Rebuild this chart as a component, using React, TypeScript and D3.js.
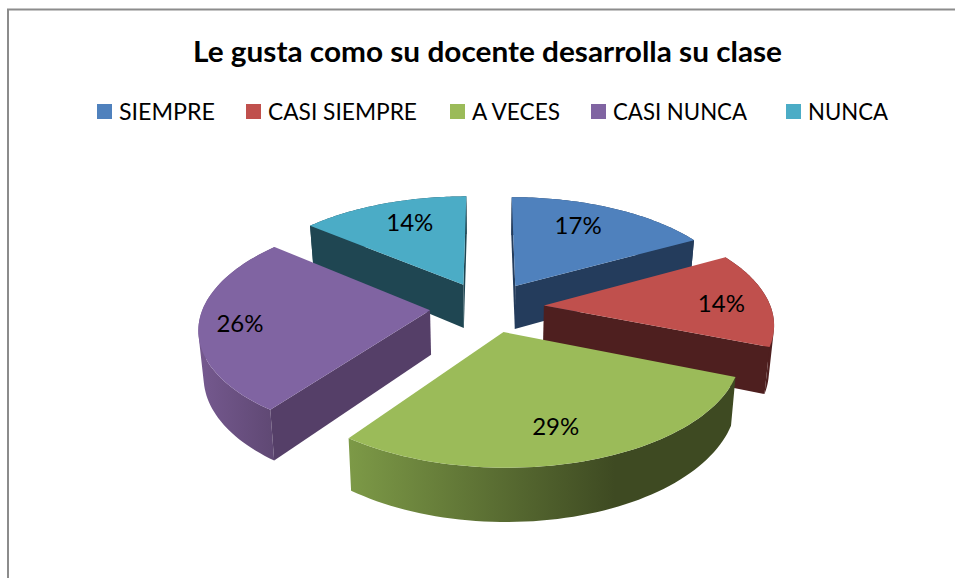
import React from "react";
import * as d3 from "d3";

const title = "Le gusta como su docente desarrolla su clase";
const categories = ["SIEMPRE", "CASI SIEMPRE", "A VECES", "CASI NUNCA", "NUNCA"];
const values = [17, 14, 29, 26, 14];
const topColors = ["#4f81bd", "#c0504d", "#9bbb59", "#8064a2", "#4bacc6"];
const wallColors = ["#243c5c", "#4e1f1f", "#3e4a22", "#553f68", "#1f4652"];
const drawOrder = [4, 0, 1, 3, 2];
const labelRadius = [0.72, 0.78, 0.62, 0.85, 0.68];
const labelNudgeX = [-9, 3, 6, 6, 3];
const labelNudgeY = [-3, 3, 19, 2, -5];
const legendSwatchX = [97, 246, 450, 591, 786];
const legendTextX = [119, 268, 472, 613, 808];
const legendTextW = [96, 149, 88, 134, 80];

const W = 955, H = 578;
const cx = 487, cy = 307, scaleX = 235, scaleY = 107.5, persp = 0.147;
const explode = 0.235, explodeXGain = 1.035, rimX = 0.965, depth = 44.5, taper = 0.982;

type P = [number, number];
const project = (u: number, v: number, bottom = false): P => {
  const s = 1 / (1 - persp * v);
  const k = bottom ? taper : 1;
  return [cx + u * scaleX * s * k, cy + v * scaleY * s + (bottom ? depth * s : 0)];
};

const pieGen = d3.pie<number>().sort(null).value((d) => d).startAngle(0).endAngle(2 * Math.PI);
const arcs = pieGen(values);
const line = d3.line<P>().x((d) => d[0]).y((d) => d[1]);

function sliceGeom(i: number) {
  const a = arcs[i];
  const mid = (a.startAngle + a.endAngle) / 2;
  const ou = Math.sin(mid) * explode * explodeXGain;
  const ov = -Math.cos(mid) * explode;
  const world = (ang: number, r: number): P => [ou + Math.sin(ang) * r * rimX, ov - Math.cos(ang) * r];
  const angles = d3.range(0, 61).map((k) => a.startAngle + ((a.endAngle - a.startAngle) * k) / 60);
  const rim = angles.map((t) => world(t, 1));
  const rimTop = rim.map((p) => project(p[0], p[1]));
  const rimBot = rim.map((p) => project(p[0], p[1], true));
  const apexTop = project(ou, ov);
  const apexBot = project(ou, ov, true);
  const topPts: P[] = [apexTop, ...rimTop];
  // outer wall: one path of same-wound strips, so the silhouette stays tangent to both rims
  const outerPath = d3
    .range(0, 60)
    .map((k) => {
      const q: P[] = [rimTop[k], rimTop[k + 1], rimBot[k + 1], rimBot[k]];
      if (d3.polygonArea(q) < 0) q.reverse();
      return line(q)! + "Z";
    })
    .join("");
  const walls: P[][] = [];
  // only the radial faces turned towards the viewer are drawn
  if (Math.sin(a.startAngle) <= 1e-9) walls.push([apexTop, rimTop[0], rimBot[0], apexBot]);
  if (Math.sin(a.endAngle) >= -1e-9) walls.push([apexTop, rimTop[60], rimBot[60], apexBot]);
  const lab = world(mid, labelRadius[i]);
  return { topPts, outerPath, walls, label: project(lab[0], lab[1]) };
}

export default function App() {
  return (
    <svg
      width={W}
      height={H}
      viewBox={`0 0 ${W} ${H}`}
      style={{ position: "absolute", left: 0, top: 0, display: "block", background: "#fff" }}
      fontFamily="Lato, Carlito, sans-serif"
    >
      <defs>
        <linearGradient id="greenWall" gradientUnits="userSpaceOnUse" x1={347} x2={615} y1={0} y2={0}>
          <stop offset="0" stopColor="#7d9a47" />
          <stop offset="1" stopColor="#3e4a22" />
        </linearGradient>
        <linearGradient id="purpleWall" gradientUnits="userSpaceOnUse" x1={199} x2={275} y1={0} y2={0}>
          <stop offset="0" stopColor="#75598f" />
          <stop offset="1" stopColor="#5f4873" />
        </linearGradient>
      </defs>
      <path d={`M8 578V9.5H${W}`} fill="none" stroke="#8c8c8c" strokeWidth={2} />
      <text x={193} y={62} fontSize={29} fontWeight={700} fill="#000" textLength={589} lengthAdjust="spacingAndGlyphs">
        {title}
      </text>
      {categories.map((c, i) => (
        <g key={c}>
          <rect x={legendSwatchX[i]} y={104} width={15} height={15} fill={topColors[i]} />
          <text x={legendTextX[i]} y={120} fontSize={24} fill="#000" textLength={legendTextW[i]} lengthAdjust="spacingAndGlyphs">
            {c}
          </text>
        </g>
      ))}
      {drawOrder.map((i) => {
        const g = sliceGeom(i);
        const outerFill = i === 2 ? "url(#greenWall)" : i === 3 ? "url(#purpleWall)" : wallColors[i];
        return (
          <g key={categories[i]}>
            <path d={g.outerPath} fill={outerFill} />
            {g.walls.map((w, k) => (
              <path key={k} d={line(w)! + "Z"} fill={wallColors[i]} />
            ))}
            <path d={line(g.topPts)! + "Z"} fill={topColors[i]} />
          </g>
        );
      })}
      {drawOrder.map((i) => {
        const g = sliceGeom(i);
        return (
          <text
            key={i}
            x={g.label[0] + labelNudgeX[i]}
            y={g.label[1] + labelNudgeY[i]}
            dy="0.35em"
            textAnchor="middle"
            fontSize={24}
            fill="#000"
          >
            {values[i]}%
          </text>
        );
      })}
    </svg>
  );
}
